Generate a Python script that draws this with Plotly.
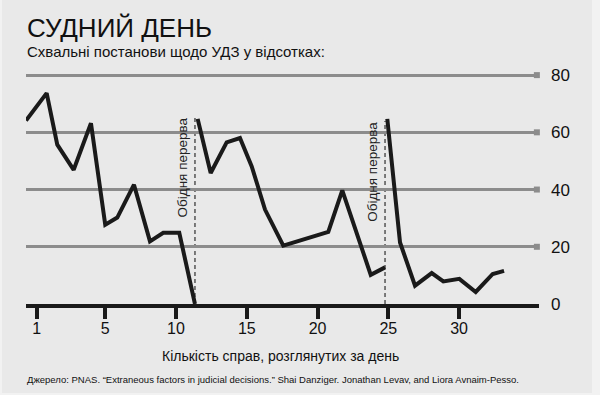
import plotly.graph_objects as go

# Data (x in case-position units, y in percent)
seg1_x = [-0.60, 0.86, 1.61, 2.77, 3.99, 5.00, 5.85, 7.03, 8.16, 9.10, 10.23, 11.34]
seg1_y = [64.1, 73.7, 55.7, 46.9, 63.2, 27.7, 30.2, 41.7, 21.9, 24.9, 24.9, 0.0]
seg2_x = [11.53, 12.45, 13.58, 14.52, 15.35, 16.29, 17.58, 20.76, 21.75, 23.76, 24.77]
seg2_y = [64.7, 45.8, 56.5, 58.0, 48.1, 33.0, 20.4, 25.2, 39.7, 10.2, 12.8]
seg3_x = [24.93, 25.83, 26.89, 28.07, 28.89, 30.02, 31.18, 32.38, 33.18]
seg3_y = [64.7, 21.5, 6.4, 10.8, 7.9, 8.8, 4.2, 10.5, 11.6]

break_x = [11.34, 24.77]
break_top = [65.0, 64.0]
break_label = "Обідня перерва"

x_tickvals = [0.15, 5, 10, 15, 20, 25, 30]
x_ticktext = ["1", "5", "10", "15", "20", "25", "30"]
y_tickvals = [0, 20, 40, 60, 80]

title = "СУДНИЙ ДЕНЬ"
subtitle = "Схвальні постанови щодо УДЗ у відсотках:"
x_title = "Кількість справ, розглянутих за день"
source = "Джерело: PNAS. “Extraneous factors in judicial decisions.” Shai Danziger. Jonathan Levav, and Liora Avnaim-Pesso."

BG = "#e9e9e9"
EDGE = "#f2f2f2"
GRID = "#8c8c8c"
LINE = "#1a1a1a"
FONT = "Liberation Sans, Arial, sans-serif"

fig = go.Figure()

# grid end markers
fig.add_trace(go.Scatter(
    x=[35.5] * 4, y=y_tickvals[1:], mode="markers",
    marker=dict(symbol="square", size=6, color=GRID),
    cliponaxis=False, hoverinfo="skip", showlegend=False))

for xs, ys in [(seg1_x, seg1_y), (seg2_x, seg2_y), (seg3_x, seg3_y)]:
    fig.add_trace(go.Scatter(
        x=xs, y=ys, mode="lines",
        line=dict(color=LINE, width=4),
        cliponaxis=False, hoverinfo="skip", showlegend=False))

# paper coords: x 0..1 -> px 26..539, y 0..1 -> py 304..60
def px_x(px):
    return (px - 26) / 513.0

def px_y(py):
    return (304 - py) / 244.0

shapes = [dict(type="rect", xref="paper", yref="paper", layer="below",
               x0=px_x(2), x1=px_x(592), y0=px_y(393), y1=px_y(0),
               fillcolor=BG, line=dict(width=0))]
annotations = []
for bx, bt in zip(break_x, break_top):
    shapes.append(dict(type="line", xref="x", yref="y", x0=bx, x1=bx, y0=0, y1=bt,
                       line=dict(color="#555555", width=1.5, dash="4px,3px"), layer="below"))
annotations.append(dict(xref="x", yref="y", x=10.49, y=47.7, text=break_label,
                        textangle=-90, showarrow=False,
                        font=dict(size=13.5, color="#222", family=FONT)))
annotations.append(dict(xref="x", yref="y", x=23.92, y=46.2, text=break_label,
                        textangle=-90, showarrow=False,
                        font=dict(size=13.5, color="#222", family=FONT)))

annotations.append(dict(xref="paper", yref="paper", x=-0.002, y=px_y(28), xanchor="left",
                        yanchor="middle", text=title, showarrow=False,
                        font=dict(size=26, color="#111", family=FONT)))
annotations.append(dict(xref="paper", yref="paper", x=-0.002, y=px_y(51), xanchor="left",
                        yanchor="middle", text=subtitle, showarrow=False,
                        font=dict(size=15, color="#111", family=FONT)))
annotations.append(dict(xref="paper", yref="paper", x=0.497, y=px_y(356), xanchor="center",
                        yanchor="middle", text=x_title, showarrow=False,
                        font=dict(size=14, color="#111", family=FONT)))
annotations.append(dict(xref="paper", yref="paper", x=-0.002, y=px_y(379), xanchor="left",
                        yanchor="middle", text=source, showarrow=False,
                        font=dict(size=9.5, color="#111", family=FONT)))

fig.update_layout(
    width=600, height=395,
    margin=dict(l=26, r=61, t=60, b=91),
    paper_bgcolor=EDGE, plot_bgcolor=BG,
    shapes=shapes, annotations=annotations,
    xaxis=dict(range=[-0.60, 35.65], showgrid=False, zeroline=False,
               showline=True, linecolor=LINE, linewidth=4,
               tickmode="array", tickvals=x_tickvals, ticktext=x_ticktext,
               ticks="outside", ticklen=11, tickwidth=4, tickcolor=LINE,
               ticklabelstandoff=-4,
               tickfont=dict(size=16, color="#111", family=FONT), fixedrange=True),
    yaxis=dict(range=[0, 85.28], side="right", showgrid=True, gridcolor=GRID, gridwidth=3,
               zeroline=False, showline=False, tickmode="array", tickvals=y_tickvals,
               ticks="", ticklabelstandoff=11,
               tickfont=dict(size=17, color="#111", family=FONT), fixedrange=True),
    font=dict(family=FONT),
)

fig.write_html("out.html", config={"displayModeBar": False},
               post_script="document.body.style.margin='0';")
